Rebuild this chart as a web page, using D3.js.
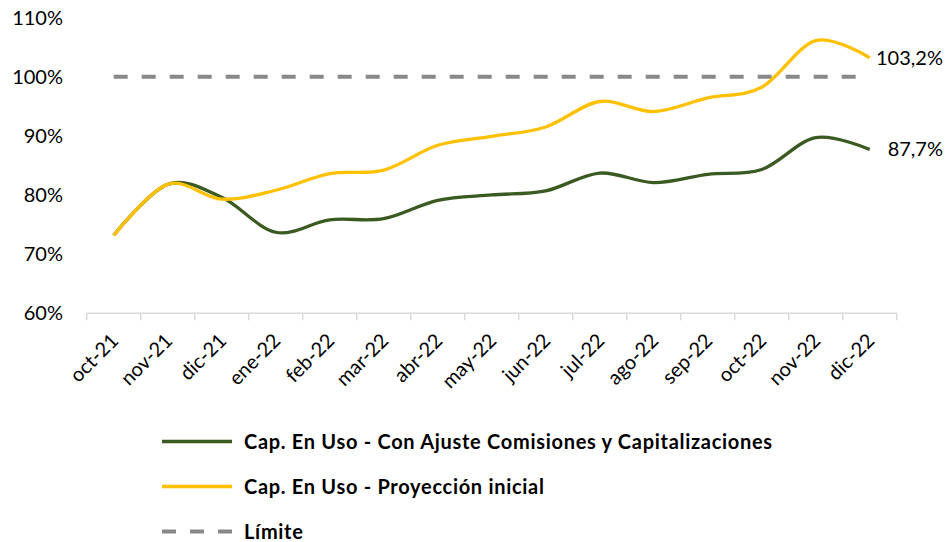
<!DOCTYPE html>
<html>
<head>
<meta charset="utf-8">
<script src="https://cdn.jsdelivr.net/npm/d3@7"></script>
<style>
  body { margin: 0; background: #fff; }
  svg { font-family: Lato, "Open Sans", sans-serif; }
</style>
</head>
<body>
<div id="chart"></div>
<script>
// Data
const months = ["oct-21", "nov-21", "dic-21", "ene-22", "feb-22", "mar-22", "abr-22",
  "may-22", "jun-22", "jul-22", "ago-22", "sep-22", "oct-22", "nov-22", "dic-22"];
const conAjuste = [73.2, 81.8, 79.6, 73.7, 75.8, 76.0, 79.1, 80.0, 80.7, 83.7, 82.1, 83.5, 84.3, 89.7, 87.7];
const proyeccion = [73.2, 81.8, 79.3, 80.8, 83.6, 84.2, 88.4, 89.9, 91.5, 95.8, 94.1, 96.4, 98.2, 106.1, 103.2];
const limite = months.map(() => 100);
const yTicks = [60, 70, 80, 90, 100, 110];
const seriesNames = ["Cap. En Uso - Con Ajuste Comisiones y Capitalizaciones",
  "Cap. En Uso - Proyección inicial", "Límite"];

const width = 947;
const height = 542;
const green = "#3b5a22";
const yellow = "#ffc000";
const grey = "#898989";

const svg = d3.select("#chart")
  .append("svg")
  .attr("width", width)
  .attr("height", height);

// Scales
const x = d3.scaleBand()
  .domain(months)
  .range([86.7, 896.7]);

const y = d3.scaleLinear()
  .domain([60, 110])
  .range([313.3, 17.5]);

const cx = d => x(d) + x.bandwidth() / 2;

// Y axis labels (no axis line)
svg.append("g")
  .selectAll("text")
  .data(yTicks)
  .enter()
  .append("text")
  .attr("x", 63)
  .attr("y", d => y(d))
  .attr("dy", "0.35em")
  .attr("text-anchor", "end")
  .style("font-size", "20px")
  .style("fill", "#000")
  .text(d => d + "%");

// X axis line and ticks at category boundaries
const xAxis = svg.append("g");
xAxis.append("line")
  .attr("x1", x.range()[0])
  .attr("x2", x.range()[1])
  .attr("y1", y(60))
  .attr("y2", y(60))
  .attr("stroke", "#d9d9d9")
  .attr("stroke-width", 1.5);

xAxis.selectAll(".tick")
  .data(months.map(m => x(m)).concat([x.range()[1]]))
  .enter()
  .append("line")
  .attr("class", "tick")
  .attr("x1", d => d)
  .attr("x2", d => d)
  .attr("y1", y(60))
  .attr("y2", y(60) + 7)
  .attr("stroke", "#d9d9d9")
  .attr("stroke-width", 1.5);

xAxis.selectAll(".label")
  .data(months)
  .enter()
  .append("text")
  .attr("class", "label")
  .attr("transform", d => `translate(${cx(d) + 1}, 337) rotate(-45)`)
  .attr("dy", "0.35em")
  .attr("text-anchor", "end")
  .style("font-size", "20px")
  .style("fill", "#000")
  .text(d => d);

// Lines
const line = d3.line()
  .x((d, i) => cx(months[i]))
  .y(d => y(d))
  .curve(d3.curveCatmullRom.alpha(0));

svg.append("path")
  .datum(limite)
  .attr("d", d3.line().x((d, i) => cx(months[i])).y(d => y(d)))
  .attr("fill", "none")
  .attr("stroke", grey)
  .attr("stroke-width", 4)
  .attr("stroke-dasharray", "14,14");

svg.append("path")
  .datum(conAjuste)
  .attr("d", line)
  .attr("fill", "none")
  .attr("stroke", green)
  .attr("stroke-width", 3.3);

svg.append("path")
  .datum(proyeccion)
  .attr("d", line)
  .attr("fill", "none")
  .attr("stroke", yellow)
  .attr("stroke-width", 3.3);

// End value labels
const last = months.length - 1;
[[proyeccion, "103,2%"], [conAjuste, "87,7%"]].forEach(([s, lbl]) => {
  svg.append("text")
    .attr("x", 943)
    .attr("y", y(s[last]))
    .attr("dy", "0.35em")
    .attr("text-anchor", "end")
    .style("font-size", "20px")
    .style("fill", "#000")
    .text(lbl);
});

// Legend
const legend = svg.append("g");
const legendY = [441.5, 486.5, 531.5];
const legendKeys = legend.selectAll(".key")
  .data(seriesNames)
  .enter()
  .append("g")
  .attr("class", "key")
  .attr("transform", (d, i) => `translate(0, ${legendY[i]})`);

legendKeys.append("line")
  .attr("x1", 162)
  .attr("x2", 232)
  .attr("stroke", (d, i) => [green, yellow, grey][i])
  .attr("stroke-width", (d, i) => i === 2 ? 4 : 3.5)
  .attr("stroke-dasharray", (d, i) => i === 2 ? "14,14" : null);

legendKeys.append("text")
  .attr("x", 244)
  .attr("dy", "0.35em")
  .style("font-size", "20px")
  .style("font-weight", "bold")
  .style("letter-spacing", "0.7px")
  .style("fill", "#000")
  .text(d => d);
</script>
</body>
</html>
